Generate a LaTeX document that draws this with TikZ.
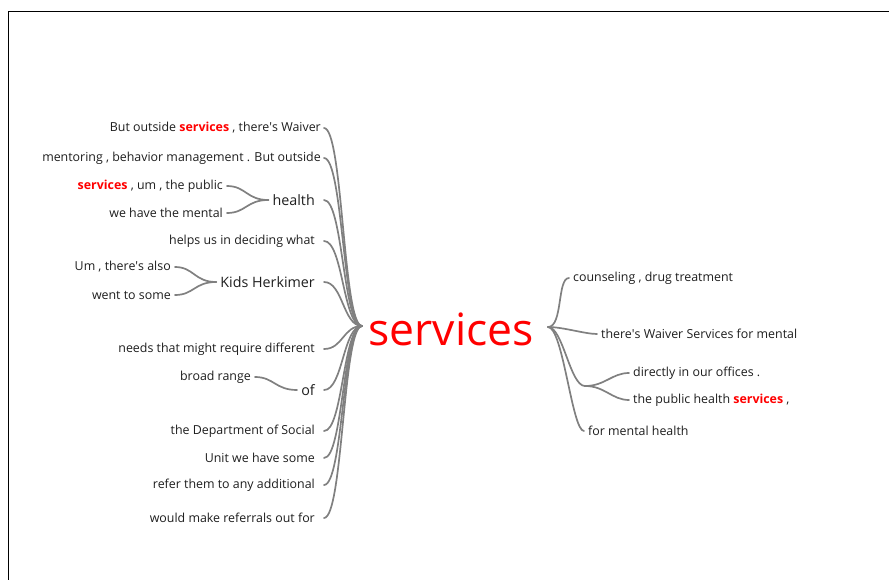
\documentclass[tikz,border=0pt]{standalone}
\usepackage{fontspec}
\setmainfont{Open Sans}
\usetikzlibrary{positioning}

\definecolor{linkgray}{RGB}{128,128,128}
\definecolor{wordink}{RGB}{30,30,30}
\newcommand{\hit}{\textcolor{red}{\textbf{services}}}
\newcommand{\ap}{\textquotesingle}

\begin{document}
\begin{tikzpicture}[x=1pt,y=-1pt,font=\fontsize{12.4}{15}\selectfont,line cap=round,
  word/.style={inner sep=1pt,text=wordink},
  bigword/.style={word,font=\fontsize{14.3}{17}\selectfont},
  link/.style={draw=linkgray,line width=1.7pt}]
  \useasboundingbox (0,0) rectangle (889,580);
  \draw[line width=1pt] (8,580) -- (8,12) -- (889,12);

  % root word and the two hubs
  \node[anchor=base,text=red,font=\fontsize{44.5}{50}\selectfont,inner sep=0pt] (root) at (451,345) {services};
  \coordinate (hubL) at (362,326);
  \coordinate (hubR) at (548,327);
  \coordinate (stem) at (324,0);

  % Left side: preceding words
  \node[word,anchor=east] (l1) at (322,128) {But outside \hit{} , there\ap s Waiver};
  \node[word,anchor=east] (l2) at (322,158) {mentoring , behavior management . But outside};
  \node[bigword,anchor=east] (health) at (316,200) {health};
  \node[word,anchor=east] (h1) at (224,186) {\hit{} , um , the public};
  \node[word,anchor=east] (h2) at (224,213) {we have the mental};
  \node[word,anchor=east] (l4) at (316,241) {helps us in deciding what};
  \node[bigword,anchor=east] (kids) at (316,282) {Kids Herkimer};
  \node[word,anchor=east] (k1) at (172,267) {Um , there\ap s also};
  \node[word,anchor=east] (k2) at (172,295) {went to some};
  \node[word,anchor=east] (l6) at (316,349) {needs that might require different};
  \node[bigword,anchor=east] (of) at (316,390) {of};
  \node[word,anchor=east] (o1) at (252,377) {broad range};
  \node[word,anchor=east] (l8) at (316,431) {the Department of Social};
  \node[word,anchor=east] (l9) at (316,458) {Unit we have some};
  \node[word,anchor=east] (l10) at (316,485) {refer them to any additional};
  \node[word,anchor=east] (l11) at (316,518) {would make referrals out for};

  \foreach \n in {l1,l2,health,l4,kids,l6,of,l8,l9,l10,l11}
    \draw[link] (hubL) .. controls ([xshift=-19pt]hubL) and ([xshift=19pt]\n.east -| stem) .. (\n.east -| stem);
  \foreach \n in {h1,h2}
    \draw[link] ([xshift=-3pt]health.west) .. controls ([xshift=-25pt]health.west) and ([xshift=22pt]\n.east) .. ([xshift=3pt]\n.east);
  \foreach \n in {k1,k2}
    \draw[link] ([xshift=-3pt]kids.west) .. controls ([xshift=-25pt]kids.west) and ([xshift=22pt]\n.east) .. ([xshift=3pt]\n.east);
  \draw[link] ([xshift=-3pt]of.west) .. controls ([xshift=-25pt]of.west) and ([xshift=22pt]o1.east) .. ([xshift=3pt]o1.east);

  % Right side: following words
  \node[word,anchor=west] (r1) at (572,278) {counseling , drug treatment};
  \node[word,anchor=west] (r2) at (600,334) {there\ap s Waiver Services for mental};
  \coordinate (jR) at (585,386);
  \node[word,anchor=west] (r3) at (632,373) {directly in our offices .};
  \node[word,anchor=west] (r4) at (632,400) {the public health \hit{} ,};
  \node[word,anchor=west] (r5) at (587,431) {for mental health};

  \foreach \n in {r1,r2,r5}
    \draw[link] (hubR) .. controls ([xshift=15pt]hubR) and ([xshift=-15pt]\n.west) .. ([xshift=-3pt]\n.west);
  \draw[link] (hubR) .. controls ([xshift=15pt]hubR) and ([xshift=-15pt]jR) .. (jR);
  \foreach \n in {r3,r4}
    \draw[link] (jR) .. controls ([xshift=20pt]jR) and ([xshift=-20pt]\n.west) .. ([xshift=-3pt]\n.west);
\end{tikzpicture}
\end{document}
